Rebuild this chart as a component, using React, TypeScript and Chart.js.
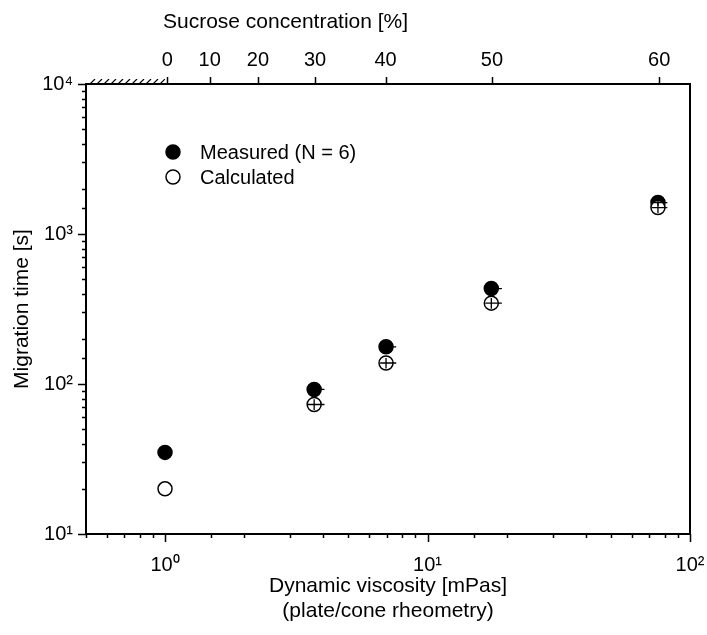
import React, { useEffect, useRef } from "react";
import { Chart, registerables } from "chart.js";

Chart.register(...registerables);

// ---- data ----
const viscosity = [1.0, 3.7, 6.95, 17.5, 75.5]; // mPas, at 0/30/40/50/60 % sucrose
const viscosityErrPlus = [0, 0.35, 0.65, 1.7, 6.5];
const viscosityErrMinus = [0, 0.2, 0.35, 0.9, 4];
const measured = [35, 92, 177, 433, 1620]; // s
const measuredErr = [2, 5, 9, 22, 80];
const calculated = [20, 73, 138, 346, 1500]; // s
const calculatedErr = [0, 6, 11, 28, 120];
const seriesLabels = ["Measured (N = 6)", "Calculated"];

const sucroseTicks = [0, 10, 20, 30, 40, 50, 60]; // %
const sucroseTickViscosity = [1.02, 1.48, 2.26, 3.73, 6.92, 17.6, 76.3];

const xRange = [0.5, 100];
const yRange = [10, 10000];

const xTitle = ["Dynamic viscosity [mPas]", "(plate/cone rheometry)"];
const yTitle = "Migration time [s]";
const topTitle = "Sucrose concentration [%]";

const FONT = "'Liberation Sans', Arial, Helvetica, sans-serif";
const SUP = ["⁰", "¹", "²", "³", "⁴", "⁵", "⁶"];

function isPow10(v: number) {
  const l = Math.log10(v);
  return Math.abs(l - Math.round(l)) < 1e-6;
}
function powLabel(v: number) {
  if (!isPow10(v)) return "";
  const e = Math.round(Math.log10(v));
  return "10" + (e >= 0 ? SUP[e] : "⁻" + SUP[-e]);
}

const decorPlugin = {
  id: "decor",
  afterDatasetsDraw(chart: any) {
    const { ctx, scales } = chart;
    const x = scales.x;
    const y = scales.y;
    ctx.save();
    ctx.strokeStyle = "#000";
    ctx.lineWidth = 1.3;
    const series = [
      { vals: measured, err: measuredErr },
      { vals: calculated, err: calculatedErr },
    ];
    series.forEach((s) => {
      s.vals.forEach((v, i) => {
        const px = x.getPixelForValue(viscosity[i]);
        const py = y.getPixelForValue(v);
        ctx.beginPath();
        if (viscosityErrPlus[i] > 0) {
          ctx.moveTo(x.getPixelForValue(viscosity[i] - viscosityErrMinus[i]), py);
          ctx.lineTo(x.getPixelForValue(viscosity[i] + viscosityErrPlus[i]), py);
        }
        if (s.err[i] > 0) {
          ctx.moveTo(px, y.getPixelForValue(v - s.err[i]));
          ctx.lineTo(px, y.getPixelForValue(v + s.err[i]));
        }
        ctx.stroke();
      });
    });
    ctx.restore();
  },
  afterDraw(chart: any) {
    const { ctx, chartArea: a, scales } = chart;
    const x = scales.x;
    const y = scales.y;
    const x2 = scales.x2;
    ctx.save();
    ctx.strokeStyle = "#000";
    ctx.lineWidth = 1.5;
    ctx.beginPath();
    x.ticks.forEach((t: any) => {
      const p = Math.round(x.getPixelForValue(t.value)) + 0.5;
      ctx.moveTo(p, a.bottom);
      ctx.lineTo(p, a.bottom + (isPow10(t.value) ? 8 : 4));
    });
    y.ticks.forEach((t: any) => {
      const p = Math.round(y.getPixelForValue(t.value)) + 0.5;
      ctx.moveTo(a.left, p);
      ctx.lineTo(a.left - (isPow10(t.value) ? 8 : 4), p);
    });
    x2.ticks.forEach((t: any) => {
      const p = Math.round(x2.getPixelForValue(t.value)) + 0.5;
      ctx.moveTo(p, a.top);
      ctx.lineTo(p, a.top - 7);
    });
    ctx.stroke();

    // right frame line
    ctx.lineWidth = 2;
    ctx.beginPath();
    ctx.moveTo(a.right, a.top - 1);
    ctx.lineTo(a.right, a.bottom + 1);
    ctx.stroke();

    // hatched band (viscosity below water)
    const h0 = x.getPixelForValue(xRange[0]) + 3;
    const h1 = x.getPixelForValue(1);
    ctx.save();
    ctx.beginPath();
    ctx.rect(h0, a.top - 5, h1 - h0, 5);
    ctx.clip();
    ctx.lineWidth = 1.2;
    ctx.beginPath();
    for (let px = h0 - 6; px < h1 + 6; px += 7) {
      ctx.moveTo(px, a.top);
      ctx.lineTo(px + 5, a.top - 5);
    }
    ctx.stroke();
    ctx.restore();

    // top axis title
    ctx.fillStyle = "#000";
    ctx.font = `21px ${FONT}`;
    ctx.textBaseline = "middle";
    ctx.textAlign = "left";
    ctx.fillText(topTitle, a.left + 77, 22);

    // legend
    ctx.font = `20px ${FONT}`;
    chart.data.datasets.forEach((ds: any, i: number) => {
      const cx = a.left + 87;
      const cy = a.top + 68 + i * 25;
      ctx.beginPath();
      ctx.arc(cx, cy, 7, 0, Math.PI * 2);
      ctx.fillStyle = ds.backgroundColor;
      ctx.fill();
      ctx.lineWidth = 1.5;
      ctx.strokeStyle = "#000";
      ctx.stroke();
      ctx.fillStyle = "#000";
      ctx.textAlign = "left";
      ctx.textBaseline = "middle";
      ctx.fillText(ds.label, a.left + 114, cy + 1);
    });
    ctx.restore();
  },
};

export default function App() {
  const ref = useRef<HTMLCanvasElement>(null);
  useEffect(() => {
    if (!ref.current) return;
    const font = { family: FONT, size: 20 };
    const titleFont = { family: FONT, size: 21 };
    const noSidePad = (s: any) => {
      s.paddingLeft = 0;
      s.paddingRight = 0;
      s.paddingTop = 0;
      s.paddingBottom = 0;
    };
    const chart = new Chart(ref.current, {
      type: "scatter",
      data: {
        datasets: [
          {
            label: seriesLabels[0],
            data: viscosity.map((v, i) => ({ x: v, y: measured[i] })),
            backgroundColor: "#000",
            borderColor: "#000",
            borderWidth: 1.5,
            pointRadius: 7,
            pointStyle: "circle",
            order: 1,
          },
          {
            label: seriesLabels[1],
            data: viscosity.map((v, i) => ({ x: v, y: calculated[i] })),
            backgroundColor: "#fff",
            borderColor: "#000",
            borderWidth: 1.5,
            pointRadius: 7,
            pointStyle: "circle",
            order: 0,
          },
        ],
      },
      options: {
        responsive: false,
        animation: false,
        devicePixelRatio: 1,
        layout: { padding: { left: 0, right: 17, top: 0, bottom: 0 } },
        plugins: { legend: { display: false }, tooltip: { enabled: false } },
        scales: {
          x: {
            type: "logarithmic",
            position: "bottom",
            min: xRange[0],
            max: xRange[1],
            grid: { display: false, drawTicks: false },
            border: { display: true, color: "#000", width: 2 },
            ticks: {
              autoSkip: false,
              maxRotation: 0,
              padding: 19,
              color: "#000",
              font,
              callback: (v: any) => powLabel(Number(v)),
            },
            title: {
              display: true,
              text: xTitle,
              color: "#000",
              font: titleFont,
              padding: { top: 0, bottom: 11 },
            },
            afterFit: (s: any) => {
              s.height = 101;
              noSidePad(s);
            },
          },
          x2: {
            type: "logarithmic",
            position: "top",
            min: xRange[0],
            max: xRange[1],
            grid: { display: false, drawTicks: false },
            border: { display: true, color: "#000", width: 2 },
            afterBuildTicks: (s: any) => {
              s.ticks = sucroseTickViscosity.map((v) => ({ value: v }));
            },
            ticks: {
              autoSkip: false,
              maxRotation: 0,
              padding: 12,
              color: "#000",
              font,
              callback: (_v: any, i: number) => String(sucroseTicks[i]),
            },
            afterFit: (s: any) => {
              s.height = 84;
              noSidePad(s);
            },
          },
          y: {
            type: "logarithmic",
            position: "left",
            min: yRange[0],
            max: yRange[1],
            grid: { display: false, drawTicks: false },
            border: { display: true, color: "#000", width: 2 },
            ticks: {
              autoSkip: false,
              padding: 13,
              color: "#000",
              font,
              callback: (v: any) => powLabel(Number(v)),
            },
            title: {
              display: true,
              text: yTitle,
              color: "#000",
              font: titleFont,
              padding: { top: 10, bottom: 0 },
            },
            afterFit: (s: any) => {
              s.width = 86;
              noSidePad(s);
            },
          },
        },
      },
      plugins: [decorPlugin],
    } as any);
    return () => chart.destroy();
  }, []);
  return (
    <div style={{ position: "absolute", left: 0, top: 0, width: 707, height: 635, background: "#fff" }}>
      <canvas ref={ref} width={707} height={635} style={{ display: "block" }} />
    </div>
  );
}
